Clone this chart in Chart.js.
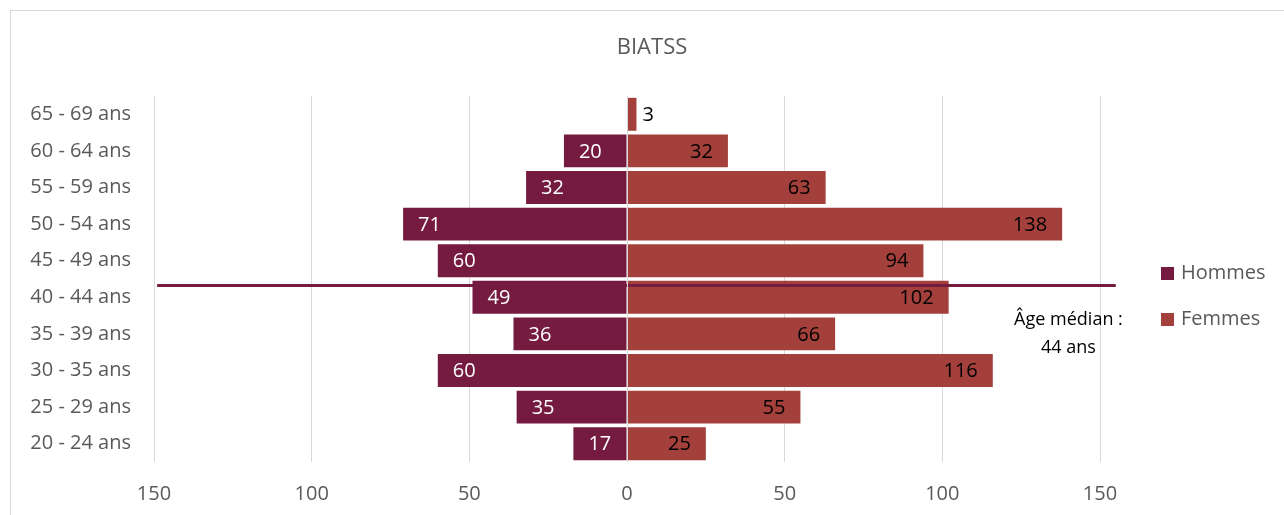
<!DOCTYPE html>
<html>
<head>
<meta charset="utf-8">
<script src="https://cdn.jsdelivr.net/npm/chart.js@4.4.1/dist/chart.umd.min.js"></script>
<style>
  html, body { margin: 0; padding: 0; background: #fff; overflow: hidden; }
  #frame { position: absolute; left: 10px; top: 10px; width: 1400px; height: 600px; border: 1px solid #d9d9d9; }
  #graph { position: absolute; left: 0; top: 0; }
</style>
</head>
<body>
<div id="frame"></div>
<canvas id="graph" width="1284" height="515"></canvas>
<script>
// age groups, top to bottom
const ageGroups = ['65 - 69 ans', '60 - 64 ans', '55 - 59 ans', '50 - 54 ans', '45 - 49 ans',
                   '40 - 44 ans', '35 - 39 ans', '30 - 35 ans', '25 - 29 ans', '20 - 24 ans'];
const hommes = [0, 20, 32, 71, 60, 49, 36, 60, 35, 17];
const femmes = [3, 32, 63, 138, 94, 102, 66, 116, 55, 25];
const seriesNames = ['Hommes', 'Femmes'];
const medianLines = ['Âge médian :', '44 ans'];
const chartTitle = 'BIATSS';

const colHommes = '#761B40';
const colFemmes = '#A3403B';
const grey = '#595959';
const FONT = "'Open Sans', sans-serif";

Chart.defaults.font.family = FONT;

// median line: drawn after Femmes (dataset 1) so the Hommes bars cover it
const medianLine = {
    id: 'medianLine',
    afterDatasetDraw(chart, args) {
        if (args.index !== 1) return;
        const ctx = chart.ctx;
        const xs = chart.scales.x, ys = chart.scales.y;
        const step = ys.getPixelForValue(1) - ys.getPixelForValue(0);
        const yMed = ys.getPixelForValue(4) + 0.68 * step;
        ctx.save();
        ctx.strokeStyle = colHommes;
        ctx.lineWidth = 3;
        ctx.beginPath();
        ctx.moveTo(xs.getPixelForValue(-149), yMed);
        ctx.lineTo(xs.getPixelForValue(155), yMed);
        ctx.stroke();
        ctx.restore();
    }
};

// values on the bars, zero line, title, median text and legend
const extras = {
    id: 'extras',
    afterDatasetsDraw(chart) {
        const ctx = chart.ctx;
        const xs = chart.scales.x, ys = chart.scales.y;
        ctx.save();

        // zero gridline shows over the bars
        const x0 = Math.round(xs.getPixelForValue(0)) + 0.5;
        ctx.strokeStyle = '#d9d9d9';
        ctx.lineWidth = 1;
        ctx.beginPath();
        ctx.moveTo(x0, chart.chartArea.top);
        ctx.lineTo(x0, chart.chartArea.bottom);
        ctx.stroke();

        ctx.font = '20px ' + FONT;
        ctx.textBaseline = 'middle';
        chart.data.datasets.forEach((ds, i) => {
            chart.getDatasetMeta(i).data.forEach((bar, j) => {
                const v = Math.abs(ds.data[j]);
                if (!v) return;
                const w = Math.abs(bar.x - bar.base);
                if (i === 0) {
                    ctx.fillStyle = '#fff';
                    ctx.textAlign = 'left';
                    ctx.fillText(v, bar.x + 15, bar.y + 1);
                } else if (w < 30) {
                    ctx.fillStyle = '#000';
                    ctx.textAlign = 'left';
                    ctx.fillText(v, bar.x + 6, bar.y + 1);
                } else {
                    ctx.fillStyle = '#000';
                    ctx.textAlign = 'right';
                    ctx.fillText(v, bar.x - 15, bar.y + 1);
                }
            });
        });

        // median text
        const step = ys.getPixelForValue(1) - ys.getPixelForValue(0);
        const yMed = ys.getPixelForValue(4) + 0.68 * step;
        ctx.fillStyle = '#000';
        ctx.textAlign = 'center';
        ctx.font = '18px ' + FONT;
        const xm = xs.getPixelForValue(140);
        ctx.fillText(medianLines[0], xm, yMed + 34);
        ctx.fillText(medianLines[1], xm, yMed + 62);

        // title
        ctx.fillStyle = grey;
        ctx.font = '22px ' + FONT;
        ctx.fillText(chartTitle, 652, 48);

        // legend
        ctx.font = '20px ' + FONT;
        ctx.textAlign = 'left';
        [colHommes, colFemmes].forEach((c, i) => {
            const y = 273 + i * 46;
            ctx.fillStyle = c;
            ctx.fillRect(1161, y - 6, 13, 13);
            ctx.fillStyle = grey;
            ctx.fillText(seriesNames[i], 1181, y);
        });
        ctx.restore();
    }
};

new Chart(document.getElementById('graph'), {
    type: 'bar',
    data: {
        labels: ageGroups,
        datasets: [
            { label: seriesNames[0], data: hommes.map(v => -v), backgroundColor: colHommes },
            { label: seriesNames[1], data: femmes, backgroundColor: colFemmes }
        ]
    },
    options: {
        indexAxis: 'y',
        responsive: false,
        animation: false,
        barPercentage: 0.9,
        categoryPercentage: 1,
        layout: { padding: { left: 0, right: 184, top: 96, bottom: 0 } },
        scales: {
            x: {
                stacked: true,
                min: -150,
                max: 150,
                border: { display: false },
                grid: { color: '#d9d9d9', drawTicks: false },
                ticks: {
                    stepSize: 50,
                    color: grey,
                    font: { size: 20 },
                    padding: 20,
                    callback: v => Math.abs(v)
                },
                afterFit: s => { s.height = 53; }
            },
            y: {
                stacked: true,
                border: { display: false },
                grid: { display: false, drawTicks: false },
                ticks: { color: grey, font: { size: 20 }, padding: 23 },
                afterFit: s => { s.width = 154; }
            }
        },
        plugins: {
            legend: { display: false },
            tooltip: { enabled: false }
        }
    },
    plugins: [medianLine, extras]
});
</script>
</body>
</html>
